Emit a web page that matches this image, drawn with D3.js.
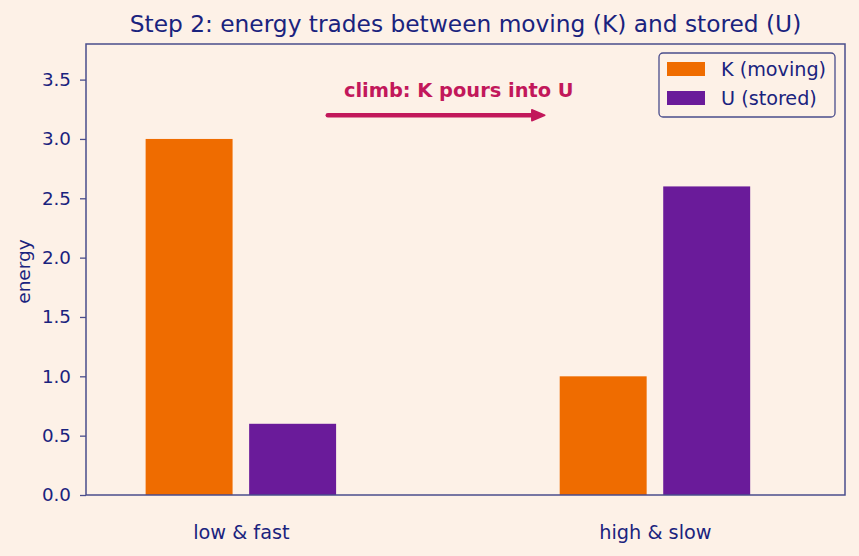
<!DOCTYPE html>
<html>
<head>
<meta charset="utf-8">
<script src="https://cdn.jsdelivr.net/npm/d3@7"></script>
<style>
  body { margin: 0; background: #fdf1e7; }
  svg { display: block; font-family: 'DejaVu Sans', sans-serif; }
</style>
</head>
<body>
<svg id="chart" width="859" height="556"></svg>
<script>
// chart values
const categories = ['low & fast', 'high & slow'];
const seriesNames = ['K (moving)', 'U (stored)'];
const kValues = [3.0, 1.0];
const uValues = [0.6, 2.6];
const yTicks = [0, 0.5, 1.0, 1.5, 2.0, 2.5, 3.0, 3.5];
const arrowFrom = [0.21, 3.2]; // data coords: [category index, energy]
const arrowTo = [0.734, 3.2];
const noteAt = [0.249, 3.4];
const noteText = 'climb: K pours into U';

const w = 859; // svg width
const h = 556; // svg height
const padL = 86, padR = 845, padT = 44, padB = 495;

const textColor = '#1a237e';
const spineColor = '#4a4d8c';
const colors = ['#ef6c00', '#6a1b9a'];
const annotColor = '#c2185b';

const svg = d3.select('#chart');

// scales
const xScale = d3.scaleLinear().domain([-0.374, 1.459]).range([padL, padR]);
const yScale = d3.scaleLinear().domain([0, 3.8]).range([padB, padT]);

const barW = 0.21;
const offsets = [-0.125, 0.125];
const series = [kValues, uValues];

// bars
series.forEach((vals, s) => {
  svg.append('g')
    .selectAll('rect')
    .data(vals)
    .enter()
    .append('rect')
    .attr('x', (d, i) => xScale(i + offsets[s] - barW / 2))
    .attr('width', xScale(barW) - xScale(0))
    .attr('y', (d) => yScale(d))
    .attr('height', (d) => yScale(0) - yScale(d))
    .style('fill', colors[s]);
});

// y axis
const yAxis = d3.axisLeft(yScale)
  .tickValues(yTicks)
  .tickSize(6)
  .tickPadding(9)
  .tickFormat(d3.format('.1f'));
const gy = svg.append('g')
  .attr('transform', `translate(${padL}, 0)`)
  .call(yAxis);
gy.select('.domain').remove();
gy.selectAll('line').attr('stroke', spineColor).attr('stroke-width', 1.3);
gy.selectAll('text')
  .attr('fill', textColor)
  .style('font-size', '18.3px')
  .style('font-family', 'DejaVu Sans');

// x axis (category labels, no tick marks)
const xAxis = d3.axisBottom(xScale)
  .tickValues([0, 1])
  .tickSize(0)
  .tickPadding(30)
  .tickFormat((d) => categories[d]);
const gx = svg.append('g')
  .attr('transform', `translate(0, ${padB})`)
  .call(xAxis);
gx.select('.domain').remove();
gx.selectAll('text')
  .attr('fill', textColor)
  .style('font-size', '19.3px')
  .style('font-family', 'DejaVu Sans');

// frame
svg.append('rect')
  .attr('x', padL)
  .attr('y', padT)
  .attr('width', padR - padL)
  .attr('height', padB - padT)
  .attr('fill', 'none')
  .attr('stroke', spineColor)
  .attr('stroke-width', 1.5);

// title and y label
svg.append('text')
  .attr('x', (padL + padR) / 2)
  .attr('y', 32)
  .attr('text-anchor', 'middle')
  .attr('fill', textColor)
  .style('font-size', '23.3px')
  .text('Step 2: energy trades between moving (K) and stored (U)');

svg.append('text')
  .attr('transform', 'rotate(-90)')
  .attr('x', -(padT + padB) / 2 - 2)
  .attr('y', 30)
  .attr('text-anchor', 'middle')
  .attr('fill', textColor)
  .style('font-size', '18.5px')
  .text('energy');

// arrow annotation
const ax1 = xScale(arrowFrom[0]), ay = yScale(arrowFrom[1]);
const ax2 = xScale(arrowTo[0]);
svg.append('line')
  .attr('x1', ax1)
  .attr('y1', ay)
  .attr('x2', ax2 - 10)
  .attr('y2', ay)
  .attr('stroke', annotColor)
  .attr('stroke-width', 4.5)
  .attr('stroke-linecap', 'round');
svg.append('path')
  .attr('d', `M${ax2},${ay} L${ax2 - 13},${ay - 5.5} L${ax2 - 13},${ay + 5.5} Z`)
  .attr('fill', annotColor)
  .attr('stroke', annotColor)
  .attr('stroke-width', 1.5)
  .attr('stroke-linejoin', 'round');

svg.append('text')
  .attr('x', xScale(noteAt[0]))
  .attr('y', yScale(noteAt[1]) + 6)
  .attr('fill', annotColor)
  .style('font-size', '19.4px')
  .style('font-weight', 'bold')
  .text(noteText);

// legend
const legend = svg.append('g').attr('transform', 'translate(659, 53)');
legend.append('rect')
  .attr('width', 176)
  .attr('height', 64)
  .attr('rx', 4)
  .attr('fill', '#fdf1e7')
  .attr('stroke', spineColor)
  .attr('stroke-width', 1.3);
seriesNames.forEach((name, i) => {
  legend.append('rect')
    .attr('x', 8)
    .attr('y', 9 + i * 29)
    .attr('width', 38)
    .attr('height', 14)
    .style('fill', colors[i]);
  legend.append('text')
    .attr('x', 62)
    .attr('y', 16 + i * 29)
    .attr('dominant-baseline', 'central')
    .attr('fill', textColor)
    .style('font-size', '19.2px')
    .text(name);
});
</script>
</body>
</html>
